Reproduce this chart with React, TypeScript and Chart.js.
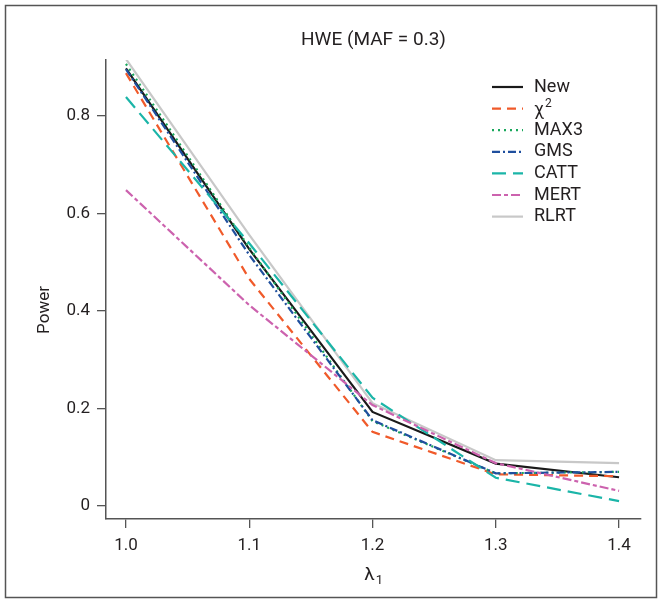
import React, { useEffect, useRef } from "react";
import { Chart, registerables } from "chart.js";

Chart.register(...registerables);

const lambdas = [1.0, 1.1, 1.2, 1.3, 1.4];
const seriesNames = ["New", "χ2", "MAX3", "GMS", "CATT", "MERT", "RLRT"];
const newVals = [0.898, 0.527, 0.193, 0.087, 0.059];
const chiVals = [0.888, 0.466, 0.152, 0.065, 0.061];
const max3Vals = [0.907, 0.530, 0.174, 0.067, 0.070];
const gmsVals = [0.896, 0.515, 0.176, 0.067, 0.070];
const cattVals = [0.839, 0.539, 0.222, 0.058, 0.010];
const mertVals = [0.648, 0.412, 0.207, 0.088, 0.031];
const rlrtVals = [0.917, 0.556, 0.211, 0.094, 0.088];
const xTicks = [1.0, 1.1, 1.2, 1.3, 1.4];
const yTicks = [0, 0.2, 0.4, 0.6, 0.8];
const titleText = "HWE (MAF = 0.3)";
const yTitle = "Power";

const allVals = [newVals, chiVals, max3Vals, gmsVals, cattVals, mertVals, rlrtVals];
const colors = ["#1a1a1a", "#f05a2a", "#19a85c", "#1f4f9e", "#1bb5a8", "#cc62ae", "#c8c8c8"];
const dashes: number[][] = [[], [9, 6], [2, 4], [8, 3, 2, 3], [14, 7], [9, 3, 4, 3], []];

const FONT = 'Roboto, "Open Sans", sans-serif';
const TEXT = "#231f20";
const AXIS = "#555555";

const decor = {
  id: "decor",
  beforeDraw(chart: any) {
    const ctx = chart.ctx;
    ctx.save();
    ctx.fillStyle = "#ffffff";
    ctx.fillRect(0, 0, chart.width, chart.height);
    ctx.restore();
  },
  afterDraw(chart: any) {
    const ctx = chart.ctx;
    const ca = chart.chartArea;
    ctx.save();
    // frame
    ctx.strokeStyle = AXIS;
    ctx.lineWidth = 1.5;
    ctx.strokeRect(5.5, 5.5, 651, 592);
    // title
    ctx.fillStyle = TEXT;
    ctx.font = `19px ${FONT}`;
    ctx.textAlign = "center";
    ctx.textBaseline = "middle";
    ctx.fillText(titleText, (ca.left + ca.right) / 2, 40);
    // y title
    ctx.save();
    ctx.translate(45, 310);
    ctx.rotate(-Math.PI / 2);
    ctx.font = `17px ${FONT}`;
    ctx.fillText(yTitle, 0, 0);
    ctx.restore();
    // x title lambda_1
    ctx.font = `19px ${FONT}`;
    ctx.textAlign = "left";
    const lw = ctx.measureText("λ").width;
    const cx = (ca.left + ca.right) / 2;
    ctx.fillText("λ", cx - lw / 2 - 4, 575);
    ctx.font = `13px ${FONT}`;
    ctx.fillText("1", cx + lw / 2 - 3, 581);
    // legend
    chart.data.datasets.forEach((ds: any, i: number) => {
      const y = 87 + i * 21.6;
      ctx.save();
      ctx.strokeStyle = ds.borderColor;
      ctx.lineWidth = 2.2;
      ctx.setLineDash(ds.borderDash || []);
      ctx.beginPath();
      ctx.moveTo(492, y);
      ctx.lineTo(523, y);
      ctx.stroke();
      ctx.restore();
      ctx.fillStyle = TEXT;
      ctx.textAlign = "left";
      ctx.textBaseline = "middle";
      const name = seriesNames[i];
      if (name === "χ2") {
        ctx.font = `18px ${FONT}`;
        ctx.fillText("χ", 534, y + 2);
        const w = ctx.measureText("χ").width;
        ctx.font = `12px ${FONT}`;
        ctx.fillText("2", 534 + w + 1, y - 5);
      } else {
        ctx.font = `18px ${FONT}`;
        ctx.fillText(name, 534, y);
      }
    });
    ctx.restore();
  },
};

export default function App() {
  const ref = useRef<HTMLCanvasElement | null>(null);
  useEffect(() => {
    if (!ref.current) return;
    const datasets = allVals.map((vals, i) => ({
      label: seriesNames[i],
      data: vals.map((v, j) => ({ x: lambdas[j], y: v })),
      borderColor: colors[i],
      backgroundColor: colors[i],
      borderDash: dashes[i],
      borderWidth: 2.2,
      pointRadius: 0,
      fill: false,
      tension: 0,
      order: i === 6 ? 10 : 7 - i,
    }));
    const chart = new Chart(ref.current, {
      type: "line",
      data: { datasets },
      plugins: [decor],
      options: {
        animation: false,
        responsive: false,
        maintainAspectRatio: false,
        layout: { padding: { left: 0, right: 20, top: 60, bottom: 0 } },
        plugins: {
          legend: { display: false },
          title: { display: false },
          tooltip: { enabled: false },
        },
        scales: {
          x: {
            type: "linear",
            min: 0.9838,
            max: 1.4178,
            afterBuildTicks: (s: any) => {
              s.ticks = xTicks.map((v) => ({ value: v }));
            },
            afterFit: (s: any) => {
              s.height = 86;
            },
            ticks: {
              callback: (v: any) => Number(v).toFixed(1),
              font: { family: FONT, size: 17 },
              color: TEXT,
              padding: 8,
              maxRotation: 0,
              autoSkip: false,
            },
            grid: { drawOnChartArea: false, drawTicks: true, tickLength: 9, color: AXIS, lineWidth: 1.3 },
            border: { color: AXIS, width: 1.5 },
          },
          y: {
            type: "linear",
            min: -0.0267,
            max: 0.915,
            afterBuildTicks: (s: any) => {
              s.ticks = yTicks.map((v) => ({ value: v }));
            },
            afterFit: (s: any) => {
              s.width = 106;
            },
            ticks: {
              callback: (v: any) => (Number(v) === 0 ? "0" : Number(v).toFixed(1)),
              font: { family: FONT, size: 17 },
              color: TEXT,
              padding: 7,
              autoSkip: false,
            },
            grid: { drawOnChartArea: false, drawTicks: true, tickLength: 9, color: AXIS, lineWidth: 1.3 },
            border: { color: AXIS, width: 1.5 },
          },
        },
      } as any,
    });
    return () => chart.destroy();
  }, []);
  return (
    <div style={{ position: "fixed", left: 0, top: 0, width: 661, height: 605, background: "#fff" }}>
      <canvas ref={ref} width={661} height={605} style={{ width: 661, height: 605, display: "block" }} />
    </div>
  );
}
